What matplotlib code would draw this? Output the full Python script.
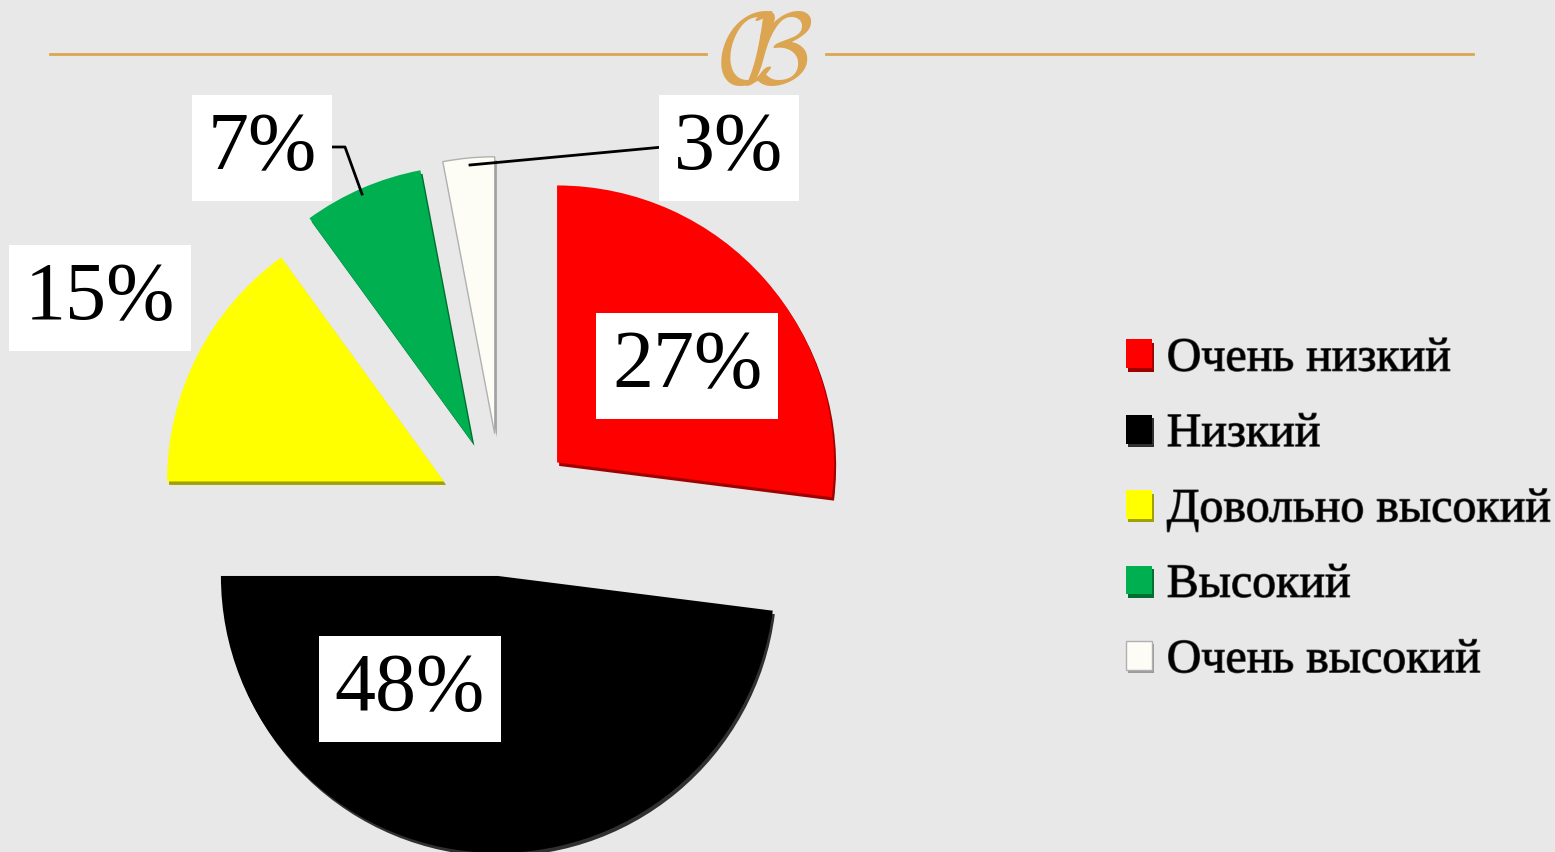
import matplotlib
matplotlib.use("Agg")
import matplotlib.pyplot as plt
from matplotlib.lines import Line2D
from matplotlib.transforms import IdentityTransform
import matplotlib.patheffects as pe

categories = ["Очень низкий", "Низкий", "Довольно высокий", "Высокий", "Очень высокий"]
values = [27, 48, 15, 7, 3]
colors = ["#ff0000", "#000000", "#ffff00", "#00b050", "#fdfdf6"]
shades = ["#a00000", "#303030", "#a0a000", "#007030", "#9a9a9a"]
explode = [0.265, 0.235, 0.235, 0.27, 0.28]

W, H = 1555, 853
fig = plt.figure(figsize=(W / 100, H / 100), dpi=100)
fig.patch.set_facecolor("#e8e8e8")

R = 277.0
cx, cy = 502.0, 512.0
ax = fig.add_axes([0, 0, 1, 1])
ax.set_facecolor("none")
wedges, _ = ax.pie(values, colors=colors, startangle=90, counterclock=False,
                   explode=explode, radius=1.0,
                   wedgeprops=dict(linewidth=0))
for w, s in zip(wedges, shades):
    w.set_path_effects([pe.SimplePatchShadow(offset=(1.5, -2.5), shadow_rgbFace=s, alpha=1.0),
                        pe.Normal()])
wedges[4].set_edgecolor("#b0b0b0")
wedges[4].set_linewidth(1.0)
ax.set_xlim(-cx / R, (W - cx) / R)
ax.set_ylim(-(H - cy) / R, cy / R)
ax.set_aspect("equal")
ax.axis("off")

# percentage labels (pixel positions, y from top)
label_pos = [(687, 367), (410, 690), (100, 299), (262, 149), (729, 149)]
serif = ["Liberation Serif", "DejaVu Serif"]
for v, (px, py) in zip(values, label_pos):
    fig.text(px / W, 1 - py / H, f"{v}%", fontsize=59, family=serif,
             ha="center", va="center", color="black",
             bbox=dict(boxstyle="square,pad=0.19", fc="white", ec="none"))

# leader lines
ident = IdentityTransform()
fig.add_artist(Line2D([328, 345, 362], [H - 148, H - 148, H - 195],
                      color="black", lw=2.0, transform=ident))
fig.add_artist(Line2D([663, 470], [H - 148, H - 166],
                      color="black", lw=2.0, transform=ident))

# legend
leg = fig.legend(wedges, categories, loc="center left",
                 bbox_to_anchor=(1126 / W, 1 - 510.5 / H), frameon=False,
                 prop=dict(family=serif, size=34.5), handlelength=0.55,
                 handleheight=0.55, handletextpad=0.3, labelspacing=0.655,
                 borderpad=0, borderaxespad=0)
for t in leg.get_texts():
    t.set_path_effects([pe.withStroke(linewidth=1.0, foreground="#555555")])

# top decoration
gold = "#dca552"
fig.add_artist(Line2D([50, 706], [H - 55, H - 55], color=gold, lw=2, transform=ident))
fig.add_artist(Line2D([826, 1473], [H - 55, H - 55], color=gold, lw=2, transform=ident))
fig.text(766 / W, 1 - 55 / H, r"$\mathcal{C}\!\!\mathcal{B}$", fontsize=74,
         color=gold, ha="center", va="center", math_fontfamily="cm")

fig.savefig("out.png", dpi=100, facecolor=fig.get_facecolor())
